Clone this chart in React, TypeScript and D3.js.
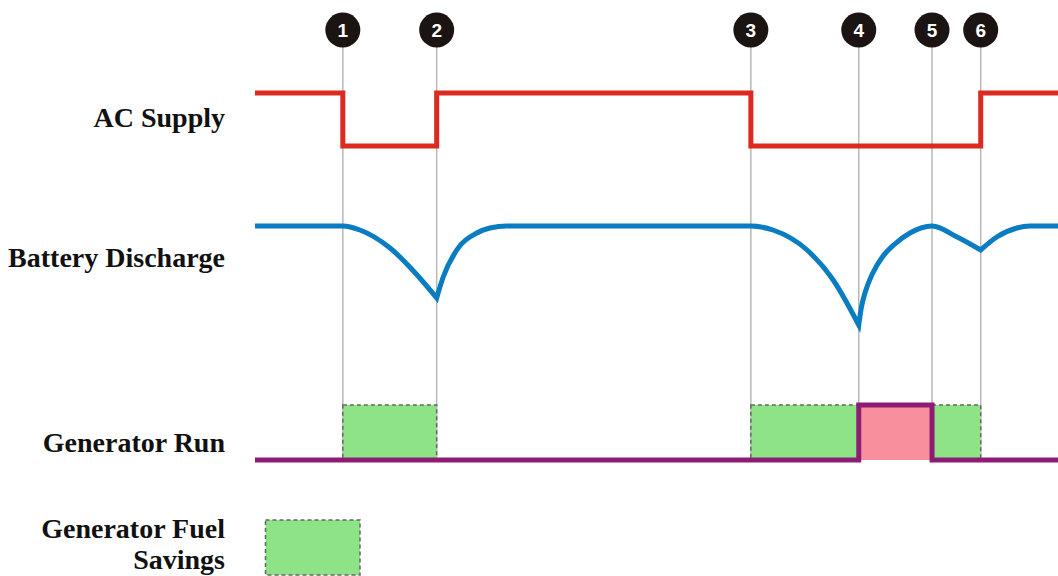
import React from "react";
import * as d3 from "d3";

// ---- data ----
const laneLabels = ["AC Supply", "Battery Discharge", "Generator Run"];
const eventTimes = [1.75, 3.62, 9.88, 12.03, 13.49, 14.46];
const eventLabels = ["1", "2", "3", "4", "5", "6"];
// AC supply state (1 = on, 0 = off), step-after
const acSupply: [number, number][] = [
  [0, 1], [1.75, 0], [3.62, 1], [9.88, 0], [14.46, 1], [16, 1],
];
// battery charge level (%)
const batteryLevel: [number, number][] = [
  [0, 100], [1.75, 100], [2.09, 98], [2.69, 89], [3.23, 75.5], [3.62, 64],
  [3.75, 74.5], [4.02, 88], [4.42, 96.5], [4.68, 99], [5.02, 100],
  [9.88, 100], [10.32, 98], [11.0, 88], [11.52, 73], [12.03, 50.5],
  [12.08, 59], [12.16, 67], [12.3, 76], [12.5, 84.5], [12.75, 91], [13.05, 96.5], [13.49, 100],
  [13.99, 94.5], [14.46, 88],
  [14.78, 94.5], [15.18, 99], [15.44, 100], [16, 100],
];
// generator state (1 = running), step-after
const generatorRun: [number, number][] = [
  [0, 0], [12.03, 1], [13.49, 0], [16, 0],
];
const fuelSavings: [number, number][] = [
  [1.75, 3.62], [9.88, 12.03], [13.49, 14.46],
];
const legendLabel = ["Generator Fuel", "Savings"];

// ---- layout ----
const W = 1058;
const H = 576;
const x = d3.scaleLinear().domain([0, 16]).range([255, 1058]);
const acY = d3.scaleLinear().domain([0, 1]).range([146, 93]);
const batY = d3.scaleLinear().domain([0, 100]).range([426, 226]);
const genY = d3.scaleLinear().domain([0, 1]).range([460, 405]);

const RED = "#dc2a20";
const BLUE = "#0a7cc1";
const PURPLE = "#8d1c75";
const GREEN = "#8fe387";
const PINK = "#f88f9c";
const GRID = "#b8b8b8";

const labelFont = "'Liberation Serif', 'Times New Roman', serif";

function batteryPath(): string {
  // split at cusps (local minima)
  const segs: [number, number][][] = [];
  let cur: [number, number][] = [batteryLevel[0]];
  for (let i = 1; i < batteryLevel.length; i++) {
    cur.push(batteryLevel[i]);
    const p = batteryLevel[i - 1];
    const n = batteryLevel[i + 1];
    if (n && p[1] > batteryLevel[i][1] && n[1] > batteryLevel[i][1]) {
      segs.push(cur);
      cur = [batteryLevel[i]];
    }
  }
  segs.push(cur);
  const line = d3
    .line<[number, number]>()
    .x((d) => x(d[0]))
    .y((d) => batY(d[1]))
    .curve(d3.curveMonotoneX);
  return segs
    .map((s, i) => {
      const d = line(s) || "";
      return i === 0 ? d : d.replace(/^M[^A-Za-z]*/, "");
    })
    .join("");
}

export default function App() {
  const acLine = d3
    .line<[number, number]>()
    .x((d) => x(d[0]))
    .y((d) => acY(d[1]))
    .curve(d3.curveStepAfter)(acSupply) || "";
  const genLine = d3
    .line<[number, number]>()
    .x((d) => x(d[0]))
    .y((d) => genY(d[1]))
    .curve(d3.curveStepAfter)(generatorRun) || "";

  const runIntervals: [number, number][] = [];
  for (let i = 0; i < generatorRun.length - 1; i++) {
    if (generatorRun[i][1] === 1) runIntervals.push([generatorRun[i][0], generatorRun[i + 1][0]]);
  }

  const labelY = [127, 267, 452];

  return (
    <svg
      width={W}
      height={H}
      style={{ position: "absolute", left: 0, top: 0, background: "#fff" }}
    >
      {/* grid lines */}
      {eventTimes.map((t, i) => (
        <line
          key={"g" + i}
          x1={x(t)}
          x2={x(t)}
          y1={47}
          y2={genY(0)}
          stroke={GRID}
          strokeWidth={1.5}
        />
      ))}
      {/* event markers */}
      {eventTimes.map((t, i) => (
        <g key={"m" + i} transform={`translate(${x(t)},30)`}>
          <circle r={17.5} fill="#1b1412" />
          <text
            y={7}
            textAnchor="middle"
            fill="#fff"
            fontFamily="'Liberation Sans', Arial, sans-serif"
            fontWeight="bold"
            fontSize={19}
          >
            {eventLabels[i]}
          </text>
        </g>
      ))}
      {/* lane labels */}
      {laneLabels.map((l, i) => (
        <text
          key={"l" + i}
          x={225}
          y={labelY[i]}
          textAnchor="end"
          fontFamily={labelFont}
          fontWeight="bold"
          fontSize={28}
          fill="#111"
        >
          {l}
        </text>
      ))}
      {/* AC supply */}
      <path d={acLine} fill="none" stroke={RED} strokeWidth={5} />
      {/* battery */}
      <path d={batteryPath()} fill="none" stroke={BLUE} strokeWidth={5} strokeLinejoin="miter" strokeMiterlimit={20} />
      {/* fuel savings */}
      {fuelSavings.map((s, i) => (
        <rect
          key={"s" + i}
          x={x(s[0])}
          y={genY(1)}
          width={x(s[1]) - x(s[0])}
          height={genY(0) - genY(1)}
          fill={GREEN}
          stroke="#666"
          strokeWidth={1.5}
          strokeDasharray="4,3"
        />
      ))}
      {/* generator running fill */}
      {runIntervals.map((s, i) => (
        <rect
          key={"r" + i}
          x={x(s[0])}
          y={genY(1)}
          width={x(s[1]) - x(s[0])}
          height={genY(0) - genY(1)}
          fill={PINK}
        />
      ))}
      <path d={genLine} fill="none" stroke={PURPLE} strokeWidth={5} />
      {/* legend */}
      <rect
        x={265.5}
        y={520}
        width={94.5}
        height={55}
        fill={GREEN}
        stroke="#666"
        strokeWidth={1.5}
        strokeDasharray="4,3"
      />
      {legendLabel.map((l, i) => (
        <text
          key={"lg" + i}
          x={225}
          y={538 + i * 31}
          textAnchor="end"
          fontFamily={labelFont}
          fontWeight="bold"
          fontSize={28}
          fill="#111"
        >
          {l}
        </text>
      ))}
    </svg>
  );
}
